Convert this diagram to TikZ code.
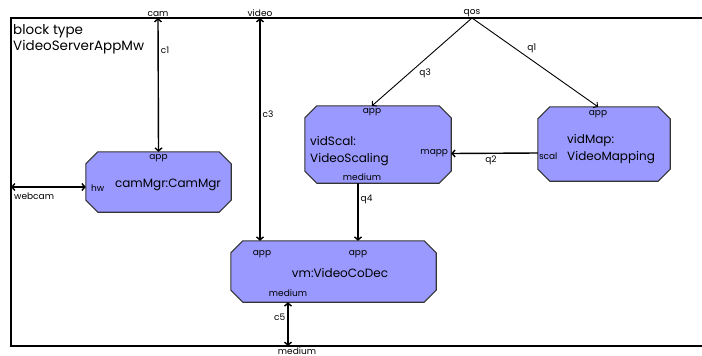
\documentclass[tikz,border=0pt]{standalone}
\usepackage{fontspec}
\setmainfont{Poppins}
\usetikzlibrary{arrows.meta}

% octagonal outline round a part node
\newcommand\partshape[1]{%
  \filldraw[partline] ([xshift=12pt]#1.north west) -- ([xshift=-12pt]#1.north east)
    -- ([yshift=-12pt]#1.north east) -- ([yshift=12pt]#1.south east)
    -- ([xshift=-12pt]#1.south east) -- ([xshift=12pt]#1.south west)
    -- ([yshift=12pt]#1.south west) -- ([yshift=-12pt]#1.north west) -- cycle;}

\begin{document}
\begin{tikzpicture}[x=1pt,y=-1pt,
  part/.style={rectangle, inner sep=0pt},
  partline/.style={draw=black!80, line width=1.1pt, fill=blue!40},
  title/.style={font=\fontsize{12}{17}\selectfont, align=left, inner sep=0pt},
  port/.style={font=\fontsize{9}{9}\selectfont, inner sep=1pt},
  lbl/.style={font=\fontsize{9}{9}\selectfont, inner sep=2pt},
  conn/.style={line width=1.4pt},
  qconn/.style={line width=0.9pt},
  tip/.style={-{Straight Barb[length=3pt,width=7pt]}},
  tips/.style={{Straight Barb[length=3pt,width=7pt]}-{Straight Barb[length=3pt,width=7pt]}}]

\useasboundingbox (0,0) rectangle (702,356);

% block frame, open on the right
\draw[line width=1.6pt] (702,18) -- (11,18) -- (11,346) -- (702,346);
\node[font=\fontsize{13.5}{16}\selectfont, align=left, inner sep=0pt, anchor=north west]
  (blk) at (13,24) {block type\\VideoServerAppMw};

% outer ports
\coordinate (cam) at (158,18);
\coordinate (video) at (260,18);
\coordinate (qos) at (472,18);
\coordinate (webcam) at (11,187);
\coordinate (medium) at (288,346);
\node[port, above] (camL) at (cam) {cam};
\node[port, above] (videoL) at (video) {video};
\node[port, above] (qosL) at (qos) {qos};
\node[port, anchor=north west] (webcamL) at (13,192) {webcam};
\node[port, anchor=north, inner sep=0pt] (mediumL) at (297,347) {medium};

% parts
\node[part, minimum width=145pt, minimum height=60pt] (camMgr) at (158.5,182) {};
\node[part, minimum width=146pt, minimum height=77pt] (vidScal) at (378,144.5) {};
\node[part, minimum width=132pt, minimum height=74pt] (vidMap) at (604,144) {};
\node[part, minimum width=205pt, minimum height=61pt] (vm) at (333.5,271.5) {};
\partshape{camMgr}
\partshape{vidScal}
\partshape{vidMap}
\partshape{vm}

\node[title] (camMgrT) at (168,185) {camMgr:CamMgr};
\node[title, anchor=west] (vidScalT) at (310,151) {vidScal:\\VideoScaling};
\node[title, anchor=west] (vidMapT) at (567,149) {vidMap:\\VideoMapping};
\node[title] (vmT) at (340,273) {vm:VideoCoDec};

% part ports
\coordinate (camMgr-app) at (camMgr.north);
\coordinate (camMgr-hw) at ([yshift=-5pt]camMgr.west);
\coordinate (vidScal-app) at ([xshift=-6pt]vidScal.north);
\coordinate (vidScal-mapp) at ([yshift=-9pt]vidScal.east);
\coordinate (vidScal-medium) at ([xshift=-20pt]vidScal.south);
\coordinate (vidMap-app) at ([xshift=-6pt]vidMap.north);
\coordinate (vidMap-scal) at ([yshift=-9pt]vidMap.west);
\coordinate (vm-app1) at (vm.north -| video);
\coordinate (vm-app2) at (vm.north -| vidScal-medium);
\coordinate (vm-medium) at (vm.south -| medium);

\node[port, below=1pt] at (camMgr-app) {app};
\node[port, right=4pt] at ([yshift=-1pt]camMgr-hw) {hw};
\node[port, below=1pt] at (vidScal-app) {app};
\node[port, left=2pt] at (vidScal-mapp) {mapp};
\node[port, above=1pt] at ([xshift=4pt]vidScal-medium) {medium};
\node[port, below=2pt] at (vidMap-app) {app};
\node[port, right] at ([yshift=-3pt]vidMap-scal) {scal};
\node[port, below=8pt] at ([xshift=2pt]vm-app1) {app};
\node[port, below=8pt] at (vm-app2) {app};
\node[port, above=4pt] at (vm-medium) {medium};

% connectors
\draw[conn, tips] (cam) -- node[lbl, right, pos=.24] {c1} (camMgr-app);
\draw[conn, tips] (video) -- node[lbl, right, pos=.43] {c3} (vm-app1);
\draw[conn, tips] (webcam) -- (camMgr-hw);
\draw[qconn, tip] (qos) -- node[lbl, below right, pos=.55] {q3} (vidScal-app);
\draw[qconn, tip] (qos) -- node[lbl, above right, pos=.42] {q1} (vidMap-app);
\draw[conn, tip] (vidMap-scal) -- node[lbl, below, pos=.54] {q2} (vidScal-mapp);
\draw[conn, tip] (vidScal-medium) -- node[lbl, right, pos=.28] {q4} (vm-app2);
\draw[conn, tips] (medium) -- node[lbl, left, pos=.66] {c5} (vm-medium);

\end{tikzpicture}
\end{document}
